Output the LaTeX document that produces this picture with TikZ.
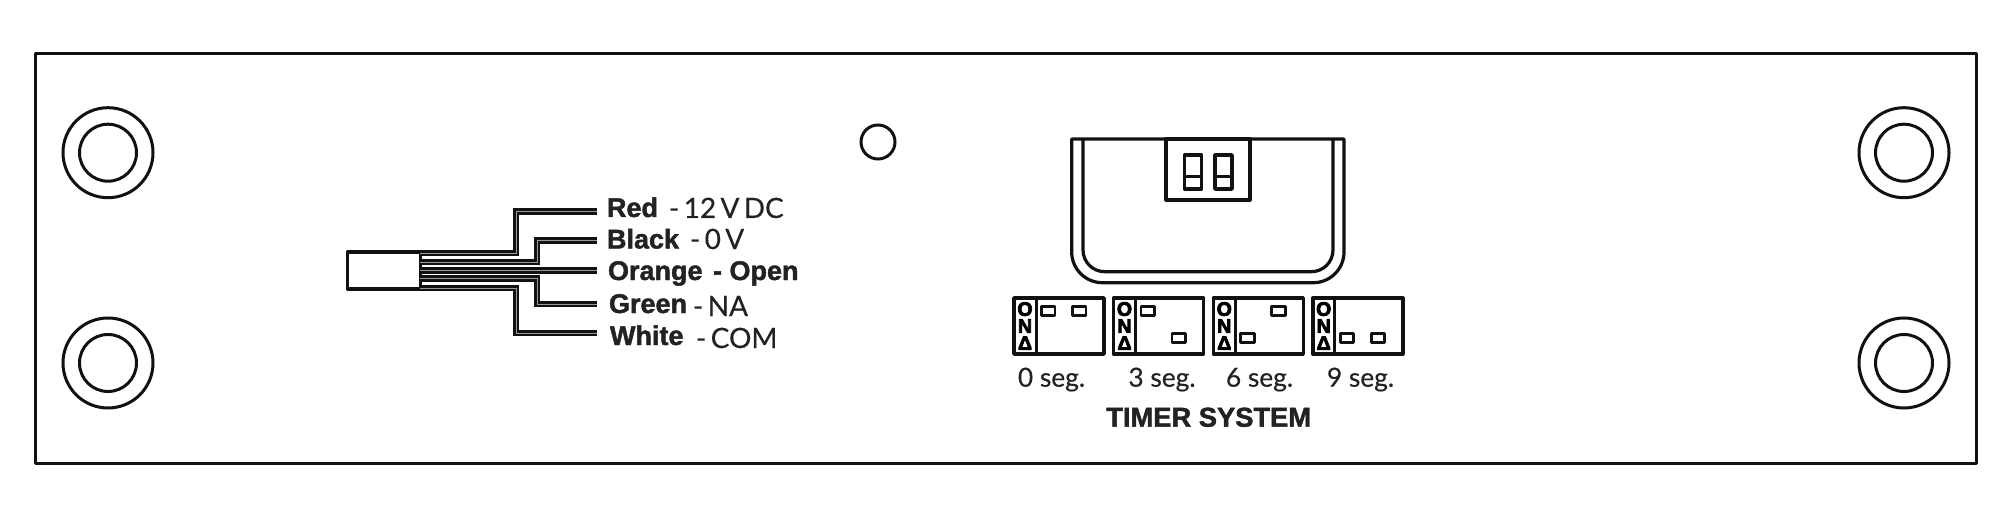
\documentclass[tikz,border=0pt]{standalone}
\usepackage{fontspec}
\setmainfont[WordSpace=0.6,FakeBold=0.35]{Lato}
\newfontfamily\segfont[FakeBold=0.35]{Lato}
\newfontfamily\headfont[BoldFont={Liberation Sans Bold},BoldFeatures={FakeBold=1.6}]{Liberation Sans}
\newfontfamily\dipfont[BoldFont={Liberation Sans Bold},BoldFeatures={FakeBold=4}]{Liberation Sans}
\definecolor{ink}{HTML}{111111}
\definecolor{txt}{HTML}{222222}
\tikzset{
  every node/.append style={outer sep=0pt},
  ln/.style={draw=ink,line width=3.2pt,line join=round},
  hole/.style={circle,draw=ink,line width=3pt,inner sep=0pt,minimum size=#1},
  wire/.style={draw=ink,line width=3.1pt,double=black!40,double distance=0.6pt,line join=miter},
  lab/.style={anchor=base west,inner sep=0pt,text=txt,font=\fontsize{28}{28}\selectfont},
  blab/.style={anchor=base west,inner sep=0pt,text=txt,font=\fontsize{27}{27}\headfont\bfseries},
  dipbox/.style={ln,rectangle,inner sep=0pt,minimum width=90pt,minimum height=56pt,anchor=north west,line width=3.6pt},
  sw/.style={ln,rectangle,inner sep=0pt,minimum width=13.5pt,minimum height=9pt,line width=2.8pt},
  dipl/.style={inner sep=0pt,text=black,align=center,font=\fontsize{19.5}{17}\dipfont\bfseries},
  seg/.style={anchor=base,inner sep=0pt,text=txt,font=\fontsize{26.3}{26}\segfont},
}
\newcommand{\dipset}[4]{%
  \node[dipbox] (#1) at (#2,298) {};
  \draw[ln,line width=3pt] ([xshift=22pt]#1.north west) -- ([xshift=22pt]#1.south west);
  \node[dipl] (#1on) at (#2+11,326) {O\\N\\Δ};
  \node[sw] (#1a) at (#2+34.3,#3) {};
  \node[sw] (#1b) at (#2+65.3,#4) {};
}
\begin{document}
\begin{tikzpicture}[x=1pt,y=-1pt]
\useasboundingbox (0,0) rectangle (2000,505);
\node[ln,rectangle,inner sep=0pt,minimum width=1941pt,minimum height=410pt,anchor=north west] (frame) at (35.5,53.5) {};
\foreach \nm/\cx/\cy in {tl/108/152.7,bl/108/363,tr/1904/152.7,br/1904/363}{
  \node[hole=90pt] (\nm o) at (\cx,\cy) {};
  \node[hole=57pt] (\nm i) at (\cx,\cy) {};
}
\node[hole=34pt] (led) at (878,142) {};
% connector
\node[ln,rectangle,inner sep=0pt,minimum width=73pt,minimum height=37pt,anchor=north west] (conn) at (347.5,252) {};
\coordinate (redE) at (597,211.5);
\coordinate (blackE) at (597,240.5);
\coordinate (orangeE) at (597,270.5);
\coordinate (greenE) at (597,304);
\coordinate (whiteE) at (597,333);
\coordinate (redS) at (420,253);
\coordinate (blackS) at (420,262);
\coordinate (orangeS) at (420,270.5);
\coordinate (greenS) at (420,278.5);
\coordinate (whiteS) at (420,288);
\draw[wire] (redS) -- (516,253) -- (516,211.5) -- (redE);
\draw[wire] (blackS) -- (537,262) -- (537,240.5) -- (blackE);
\draw[wire] (orangeS) -- (orangeE);
\draw[wire] (greenS) -- (537,278.5) -- (537,304) -- (greenE);
\draw[wire] (whiteS) -- (516,288) -- (516,333) -- (whiteE);
% labels
\node[blab] (l1) at (607,217) {Red};
\node[lab] (l1b) at (669,218) {- 12 V DC};
\node[blab] (l2) at (607,248.5) {Black};
\node[lab] (l2b) at (690,249) {- 0 V};
\node[blab] (l3) at (608,280) {Orange};
\node[blab] (l3b) at (713,280) {- Open};
\node[blab] (l4) at (609,313) {Green};
\node[lab] (l4b) at (693,316) {- NA};
\node[blab] (l5) at (610,345) {White};
\node[lab] (l5b) at (696,348) {- COM};
% timer body
\draw[ln] (1071.7,139) -- (1344,139) -- (1344,252) arc[start angle=0,end angle=90,radius=30.7] -- (1102.4,282.7) arc[start angle=90,end angle=180,radius=30.7] -- cycle;
\draw[ln] (1083,139) -- (1083,250) arc[start angle=180,end angle=90,radius=21.7] -- (1311.3,271.7) arc[start angle=90,end angle=0,radius=21.7] -- (1333,139);
\node[ln,rectangle,inner sep=0pt,minimum width=84pt,minimum height=61pt,anchor=north west] (notch) at (1166,139) {};
\foreach \nm/\sx in {s1/1184.5,s2/1215}{
  \node[ln,rectangle,inner sep=0pt,minimum width=17pt,minimum height=34pt,anchor=north west,line width=3.6pt] (\nm) at (\sx,155) {};
  \draw[ln,line width=3.6pt] ([yshift=12.5pt]\nm.south west) -- ([yshift=12.5pt]\nm.south east);
}
% dip legend
\dipset{d1}{1014}{310.7}{310.7}
\dipset{d2}{1113.5}{310.7}{337.7}
\dipset{d3}{1213.3}{337.7}{310.7}
\dipset{d4}{1312.7}{337.7}{337.7}
\node[seg] (t1) at (1051.5,386.7) {0 seg.};
\node[seg] (t2) at (1162,386.7) {3 seg.};
\node[seg] (t3) at (1259.5,386.7) {6 seg.};
\node[seg] (t4) at (1360.5,386.7) {9 seg.};
\node[anchor=base,inner sep=0pt,text=txt,font=\fontsize{27.3}{27}\headfont\bfseries] (title) at (1208.7,426.7) {TIMER SYSTEM};
\end{tikzpicture}
\end{document}
